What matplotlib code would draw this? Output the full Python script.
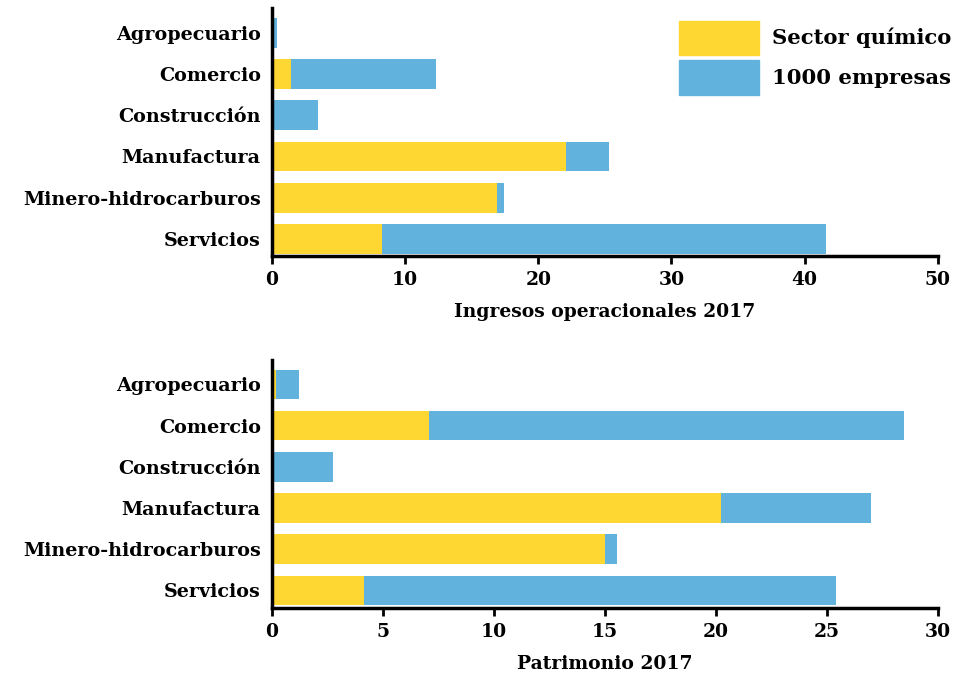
import matplotlib
matplotlib.use("Agg")
import matplotlib.pyplot as plt
from matplotlib.patches import Patch

plt.rcParams['font.family'] = ['DejaVu Serif']
plt.rcParams['font.weight'] = 'bold'

sectores = ['Agropecuario', 'Comercio', 'Construcción', 'Manufactura',
            'Minero-hidrocarburos', 'Servicios']

# Ingresos operacionales 2017
ing_quimico = [0.0, 1.4, 0.0, 22.1, 16.9, 8.25]
ing_total = [0.4, 12.3, 3.45, 25.3, 17.4, 41.6]

# Patrimonio 2017
pat_quimico = [0.2, 7.1, 0.0, 20.25, 15.0, 4.15]
pat_total = [1.2, 28.5, 2.75, 27.0, 15.55, 25.4]

amarillo = '#FFD733'
azul = '#61B3DD'

fig = plt.figure(figsize=(9.54, 6.76), dpi=100)
ax1 = fig.add_axes([0.285, 0.621, 0.698, 0.367])
ax2 = fig.add_axes([0.285, 0.101, 0.698, 0.367])


def dibujar(ax, quim, total, xmax, step, titulo):
    y = range(len(sectores))
    resto = [t - q for q, t in zip(quim, total)]
    ax.barh(y, quim, height=0.72, color=amarillo)
    ax.barh(y, resto, left=quim, height=0.72, color=azul)
    ax.set_yticks(list(y))
    ax.set_yticklabels(sectores, fontsize=13.8)
    ax.set_ylim(5.42, -0.6)
    ax.set_xlim(0, xmax)
    ax.set_xticks(range(0, xmax + 1, step))
    ax.tick_params(axis='y', length=0, pad=8)
    ax.tick_params(axis='x', length=6, width=2, labelsize=13.5, pad=5)
    for s in ['top', 'right']:
        ax.spines[s].set_visible(False)
    for s in ['left', 'bottom']:
        ax.spines[s].set_linewidth(2.5)
    ax.set_xlabel(titulo, fontsize=13.5, fontweight='bold', labelpad=10)


dibujar(ax1, ing_quimico, ing_total, 50, 10, 'Ingresos operacionales 2017')
dibujar(ax2, pat_quimico, pat_total, 30, 5, 'Patrimonio 2017')

leyenda = [Patch(color=amarillo, label='Sector químico'),
           Patch(color=azul, label='1000 empresas')]
ax1.legend(handles=leyenda, loc='upper right', frameon=False, fontsize=15.2,
           handlelength=3.8, handleheight=2.15, handletextpad=0.6,
           labelspacing=0.25, borderaxespad=0.0, borderpad=0.0,
           bbox_to_anchor=(1.02, 0.95))

fig.savefig('out.png', dpi=100)
